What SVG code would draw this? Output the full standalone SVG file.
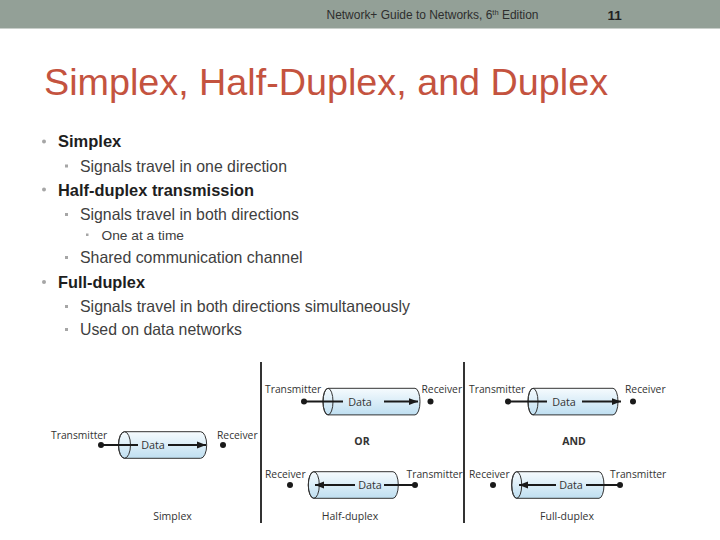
<svg xmlns="http://www.w3.org/2000/svg" width="720" height="540" viewBox="0 0 720 540">
<style>
.hdr{font-family:"Liberation Sans",Arial,sans-serif;font-size:12px;fill:#2e2e2e}
.num{font-family:"Liberation Sans",Arial,sans-serif;font-size:13.5px;font-weight:bold;fill:#222}
.title{font-family:"Liberation Sans",Arial,sans-serif;font-size:37px;fill:#c4533f}
.l1{font-family:"Liberation Sans",Arial,sans-serif;font-size:16.5px;font-weight:bold;fill:#1e1e1e}
.l2{font-family:"Liberation Sans",Arial,sans-serif;font-size:16.5px;fill:#404040}
.l3{font-family:"Liberation Sans",Arial,sans-serif;font-size:13.5px;fill:#404040}
.b1{fill:#a6a6a6}
.lab{font-family:"Open Sans","Liberation Sans",sans-serif;font-size:10.3px;fill:#333}
.data{font-family:"Open Sans","Liberation Sans",sans-serif;font-size:10.8px;fill:#333;text-anchor:middle}
.cap{font-family:"Open Sans","Liberation Sans",sans-serif;font-size:10.5px;fill:#333;text-anchor:middle}
.conj{font-family:"Open Sans","Liberation Sans",sans-serif;font-size:10.5px;font-weight:bold;fill:#333;text-anchor:middle}
.cyl{fill:url(#g);stroke:#333;stroke-width:1}
.rim{fill:none;stroke:#333;stroke-width:1}
.wire{stroke:#1a1a1a;stroke-width:2;fill:none}
.dot{fill:#1a1a1a}
.div{stroke:#333;stroke-width:2}
</style>
<defs>
<linearGradient id="g" x1="0" y1="0" x2="0" y2="1">
<stop offset="0" stop-color="#f6fbfe"/>
<stop offset="1" stop-color="#bfdff1"/>
</linearGradient>
<marker id="ah" viewBox="0 0 10 10" refX="10" refY="5" markerWidth="4.5" markerHeight="4.5" orient="auto" markerUnits="strokeWidth">
<path d="M0,1.2 L10,5 L0,8.8 Z" fill="#1a1a1a"/>
</marker>
</defs>
<rect width="720" height="540" fill="#fff"/>
<g id="header">
<rect x="0" y="0" width="720" height="28.5" fill="#93a097"/>
<text class="hdr" x="326.5" y="19" textLength="212" lengthAdjust="spacingAndGlyphs">Network+ Guide to Networks, 6<tspan font-size="7.5" dy="-4">th</tspan><tspan dy="4"> Edition</tspan></text>
<text class="num" x="607.5" y="19.5">11</text>
</g>
<g id="title">
<text class="title" x="44" y="94.5" textLength="564" lengthAdjust="spacingAndGlyphs">Simplex, Half-Duplex, and Duplex</text>
</g>
<g id="bullets">
<circle class="b1" cx="44" cy="141.5" r="2"/>
<text class="l1" x="58" y="147">Simplex</text>
<rect class="b1" x="65" y="164.5" width="3" height="3"/>
<text class="l2" x="80" y="171.5" textLength="207" lengthAdjust="spacingAndGlyphs">Signals travel in one direction</text>
<circle class="b1" cx="44" cy="189.5" r="2"/>
<text class="l1" x="58" y="195.5" textLength="196" lengthAdjust="spacingAndGlyphs">Half-duplex transmission</text>
<rect class="b1" x="65" y="213" width="3" height="3"/>
<text class="l2" x="80" y="219.5" textLength="219" lengthAdjust="spacingAndGlyphs">Signals travel in both directions</text>
<rect class="b1" x="86" y="233.5" width="2.5" height="2.5"/>
<text class="l3" x="101.5" y="240" textLength="82.5" lengthAdjust="spacingAndGlyphs">One at a time</text>
<rect class="b1" x="65" y="256" width="3" height="3"/>
<text class="l2" x="80" y="262.5" textLength="222.5" lengthAdjust="spacingAndGlyphs">Shared communication channel</text>
<circle class="b1" cx="44" cy="282" r="2"/>
<text class="l1" x="58" y="288" textLength="87" lengthAdjust="spacingAndGlyphs">Full-duplex</text>
<rect class="b1" x="65" y="305" width="3" height="3"/>
<text class="l2" x="80" y="311.5" textLength="330" lengthAdjust="spacingAndGlyphs">Signals travel in both directions simultaneously</text>
<rect class="b1" x="65" y="328" width="3" height="3"/>
<text class="l2" x="80" y="334.5" textLength="162" lengthAdjust="spacingAndGlyphs">Used on data networks</text>
</g>
<g id="dividers">
<line class="div" x1="261" y1="362" x2="261" y2="523"/>
<line class="div" x1="464" y1="362" x2="464" y2="523"/>
</g>
<g id="simplex">
<path class="cyl" d="M124.5,431.7 L200.7,431.7 A6,13.3 0 0 1 200.7,458.3 L124.5,458.3 A6,13.3 0 0 1 124.5,431.7 Z"/>
<ellipse class="rim" cx="124.5" cy="445" rx="6" ry="13.3"/>
<line class="wire" x1="101" y1="445" x2="138" y2="445"/>
<line class="wire" x1="168" y1="445" x2="206" y2="445" marker-end="url(#ah)"/>
<circle class="dot" cx="101" cy="445" r="3"/>
<circle class="dot" cx="223" cy="445" r="3"/>
<text class="data" x="153" y="449">Data</text>
<text class="lab" x="51" y="439">Transmitter</text>
<text class="lab" x="217" y="439">Receiver</text>
<text class="cap" x="172.5" y="520">Simplex</text>
</g>
<g id="half-duplex">
<path class="cyl" d="M328,388.3 L415,388.3 A5,13.3 0 0 1 415,414.9 L328,414.9 A5,13.3 0 0 1 328,388.3 Z"/>
<ellipse class="rim" cx="328" cy="401.6" rx="5" ry="13.3"/>
<line class="wire" x1="304" y1="401.6" x2="343" y2="401.6"/>
<line class="wire" x1="384" y1="401.6" x2="418" y2="401.6" marker-end="url(#ah)"/>
<circle class="dot" cx="304" cy="401.6" r="3"/>
<circle class="dot" cx="430.5" cy="401.6" r="3"/>
<text class="data" x="360" y="405.5">Data</text>
<text class="lab" x="265" y="392.5">Transmitter</text>
<text class="lab" x="421.5" y="392.5">Receiver</text>
<text class="conj" x="362" y="445">OR</text>
<path class="cyl" d="M313.8,471.7 L393,471.7 A5.3,13.3 0 0 1 393,498.3 L313.8,498.3 A5.5,13.3 0 0 1 313.8,471.7 Z"/>
<ellipse class="rim" cx="313.8" cy="485" rx="5.5" ry="13.3"/>
<line class="wire" x1="415" y1="485" x2="384" y2="485"/>
<line class="wire" x1="355" y1="485" x2="315" y2="485" marker-end="url(#ah)"/>
<circle class="dot" cx="290" cy="485" r="3"/>
<circle class="dot" cx="415" cy="485" r="3"/>
<text class="data" x="370" y="489">Data</text>
<text class="lab" x="265" y="478">Receiver</text>
<text class="lab" x="406.5" y="478">Transmitter</text>
<text class="cap" x="350" y="520">Half-duplex</text>
</g>
<g id="full-duplex">
<path class="cyl" d="M533,388.3 L613,388.3 A5,13.3 0 0 1 613,414.9 L533,414.9 A5,13.3 0 0 1 533,388.3 Z"/>
<ellipse class="rim" cx="533" cy="401.6" rx="5" ry="13.3"/>
<line class="wire" x1="508" y1="401.6" x2="547" y2="401.6"/>
<line class="wire" x1="582" y1="401.6" x2="621" y2="401.6" marker-end="url(#ah)"/>
<circle class="dot" cx="508" cy="401.6" r="3"/>
<circle class="dot" cx="633" cy="401.6" r="3"/>
<text class="data" x="564" y="405.5">Data</text>
<text class="lab" x="469" y="392.5">Transmitter</text>
<text class="lab" x="625" y="392.5">Receiver</text>
<text class="conj" x="574" y="445">AND</text>
<path class="cyl" d="M516.7,471.7 L599,471.7 A5,13.3 0 0 1 599,498.3 L516.7,498.3 A5,13.3 0 0 1 516.7,471.7 Z"/>
<ellipse class="rim" cx="516.7" cy="485" rx="5" ry="13.3"/>
<line class="wire" x1="620" y1="485" x2="586" y2="485"/>
<line class="wire" x1="556" y1="485" x2="519" y2="485" marker-end="url(#ah)"/>
<circle class="dot" cx="493" cy="485" r="3"/>
<circle class="dot" cx="620" cy="485" r="3"/>
<text class="data" x="571" y="489">Data</text>
<text class="lab" x="469" y="478">Receiver</text>
<text class="lab" x="610" y="478">Transmitter</text>
<text class="cap" x="567" y="520">Full-duplex</text>
</g>
</svg>
